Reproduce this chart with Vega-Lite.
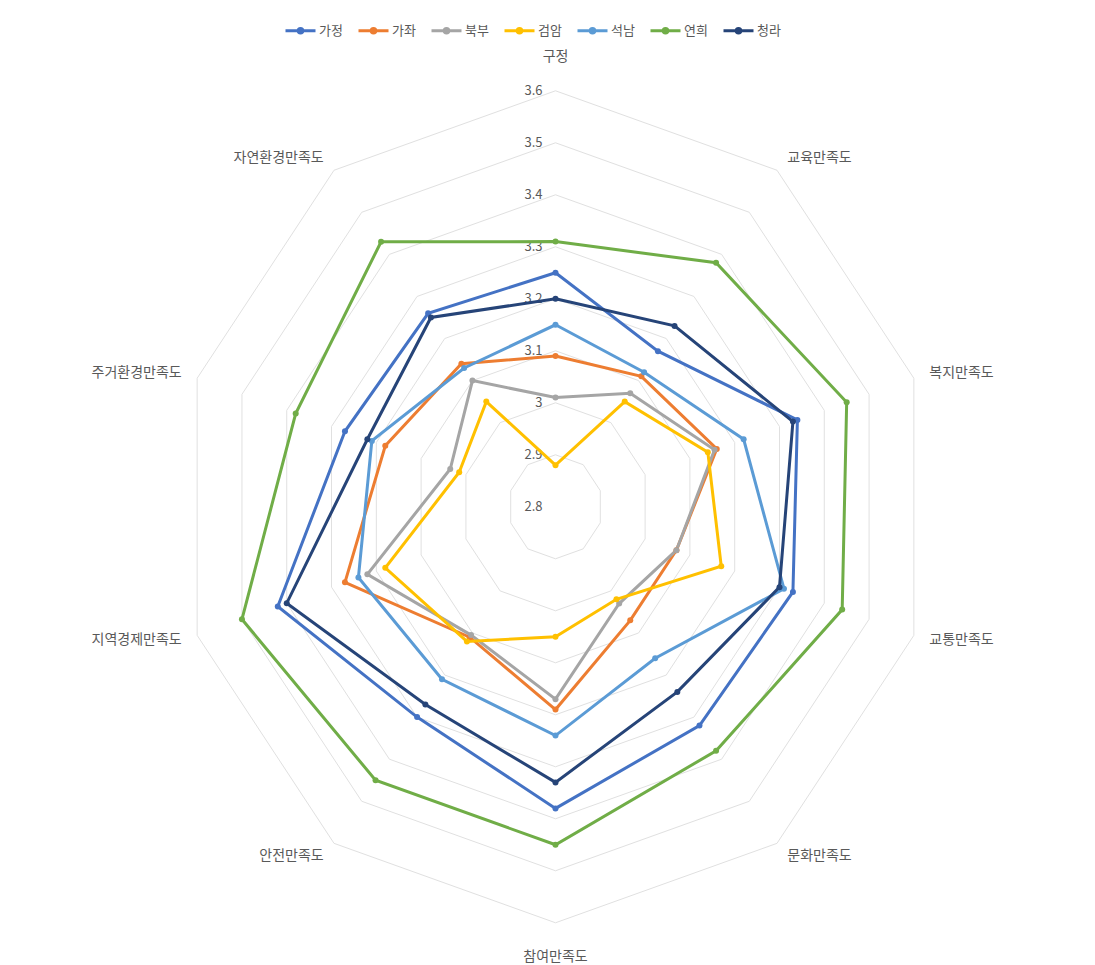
{
  "$schema": "https://vega.github.io/schema/vega-lite/v6.json",
  "width": 1095,
  "height": 965,
  "autosize": "none",
  "padding": 0,
  "background": "white",
  "config": {"view": {"stroke": null}, "font": "Noto Sans CJK KR"},
  "datasets": {
    "scores": [
      {"axis": "구정", "가정": 3.25, "가좌": 3.09, "북부": 3.01, "검암": 2.88, "석남": 3.15, "연희": 3.31, "청라": 3.20},
      {"axis": "교육만족도", "가정": 3.17, "가좌": 3.11, "북부": 3.07, "검암": 3.05, "석남": 3.12, "연희": 3.38, "청라": 3.23},
      {"axis": "복지만족도", "가정": 3.34, "가좌": 3.16, "북부": 3.155, "검암": 3.14, "석남": 3.22, "연희": 3.45, "청라": 3.33},
      {"axis": "교통만족도", "가정": 3.33, "가좌": 3.07, "북부": 3.07, "검암": 3.17, "석남": 3.31, "연희": 3.44, "청라": 3.30},
      {"axis": "문화만족도", "가정": 3.32, "가좌": 3.07, "북부": 3.03, "검암": 3.02, "석남": 3.16, "연희": 3.38, "청라": 3.24},
      {"axis": "참여만족도", "가정": 3.38, "가좌": 3.19, "북부": 3.17, "검암": 3.05, "석남": 3.24, "연희": 3.45, "청라": 3.33},
      {"axis": "안전만족도", "가정": 3.30, "가좌": 3.11, "북부": 3.105, "검암": 3.12, "석남": 3.21, "연희": 3.45, "청라": 3.27},
      {"axis": "지역경제만족도", "가정": 3.42, "가좌": 3.27, "북부": 3.22, "검암": 3.18, "석남": 3.24, "연희": 3.50, "청라": 3.40},
      {"axis": "주거환경만족도", "가정": 3.27, "가좌": 3.18, "북부": 3.035, "검암": 3.015, "석남": 3.21, "연희": 3.38, "청라": 3.22},
      {"axis": "자연환경만족도", "가정": 3.26, "가좌": 3.14, "북부": 3.10, "검암": 3.05, "석남": 3.13, "연희": 3.43, "청라": 3.25}
    ],
    "rings": [
      {"axis": "구정", "level": [2.9, 3.0, 3.1, 3.2, 3.3, 3.4, 3.5, 3.6]},
      {"axis": "교육만족도", "level": [2.9, 3.0, 3.1, 3.2, 3.3, 3.4, 3.5, 3.6]},
      {"axis": "복지만족도", "level": [2.9, 3.0, 3.1, 3.2, 3.3, 3.4, 3.5, 3.6]},
      {"axis": "교통만족도", "level": [2.9, 3.0, 3.1, 3.2, 3.3, 3.4, 3.5, 3.6]},
      {"axis": "문화만족도", "level": [2.9, 3.0, 3.1, 3.2, 3.3, 3.4, 3.5, 3.6]},
      {"axis": "참여만족도", "level": [2.9, 3.0, 3.1, 3.2, 3.3, 3.4, 3.5, 3.6]},
      {"axis": "안전만족도", "level": [2.9, 3.0, 3.1, 3.2, 3.3, 3.4, 3.5, 3.6]},
      {"axis": "지역경제만족도", "level": [2.9, 3.0, 3.1, 3.2, 3.3, 3.4, 3.5, 3.6]},
      {"axis": "주거환경만족도", "level": [2.9, 3.0, 3.1, 3.2, 3.3, 3.4, 3.5, 3.6]},
      {"axis": "자연환경만족도", "level": [2.9, 3.0, 3.1, 3.2, 3.3, 3.4, 3.5, 3.6]}
    ],
    "ticks": [
      {"t": 2.8}, {"t": 2.9}, {"t": 3}, {"t": 3.1}, {"t": 3.2}, {"t": 3.3}, {"t": 3.4}, {"t": 3.5}, {"t": 3.6}
    ]
  },
  "encoding": {
    "x": {"field": "x", "type": "quantitative", "scale": {"domain": [-1.1794, 1.1454], "nice": false, "zero": false}, "axis": null},
    "y": {"field": "y", "type": "quantitative", "scale": {"domain": [-0.8812, 0.9746], "nice": false, "zero": false}, "axis": null}
  },
  "layer": [
    {
      "data": {"name": "rings"},
      "transform": [
        {"flatten": ["level"]},
        {"calculate": "indexof(['구정','교육만족도','복지만족도','교통만족도','문화만족도','참여만족도','안전만족도','지역경제만족도','주거환경만족도','자연환경만족도'], datum.axis)", "as": "idx"},
        {"calculate": "datum.idx * PI / 5", "as": "ang"},
        {"calculate": "(datum.level - 2.8) * sin(datum.ang)", "as": "x"},
        {"calculate": "(datum.level - 2.8) * cos(datum.ang)", "as": "y"}
      ],
      "mark": {"type": "line", "interpolate": "linear-closed", "stroke": "#e0e0e0", "strokeWidth": 1},
      "encoding": {
        "detail": {"field": "level", "type": "nominal"},
        "order": {"field": "idx", "type": "quantitative"}
      }
    },
    {
      "data": {"name": "ticks"},
      "transform": [
        {"calculate": "0", "as": "x"},
        {"calculate": "datum.t - 2.8", "as": "y"}
      ],
      "mark": {"type": "text", "align": "right", "baseline": "middle", "dx": -13, "fontSize": 13, "color": "#595959"},
      "encoding": {"text": {"field": "t", "type": "nominal"}}
    },
    {
      "data": {"name": "scores"},
      "transform": [
        {"fold": ["가정", "가좌", "북부", "검암", "석남", "연희", "청라"], "as": ["region", "value"]},
        {"calculate": "indexof(['구정','교육만족도','복지만족도','교통만족도','문화만족도','참여만족도','안전만족도','지역경제만족도','주거환경만족도','자연환경만족도'], datum.axis)", "as": "idx"},
        {"calculate": "datum.idx * PI / 5", "as": "ang"},
        {"calculate": "(datum.value - 2.8) * sin(datum.ang)", "as": "x"},
        {"calculate": "(datum.value - 2.8) * cos(datum.ang)", "as": "y"}
      ],
      "encoding": {
        "color": {
          "field": "region",
          "type": "nominal",
          "scale": {
            "domain": ["가정", "가좌", "북부", "검암", "석남", "연희", "청라"],
            "range": ["#4472C4", "#ED7D31", "#A5A5A5", "#FFC000", "#5B9BD5", "#70AD47", "#264478"]
          },
          "legend": {
            "title": null,
            "orient": "none",
            "legendX": 284,
            "legendY": 14,
            "direction": "horizontal",
            "labelFontSize": 13,
            "labelColor": "#595959",
            "labelFont": "Noto Sans CJK KR",
            "labelOffset": 2,
            "columnPadding": 9,
            "symbolType": "M-1,0H1M-0.15,0A0.15,0.15,0,1,1,0.15,0A0.15,0.15,0,1,1,-0.15,0Z",
            "symbolSize": 900,
            "symbolStrokeWidth": 3,
            "encode": {
              "symbols": {
                "update": {
                  "fill": {"scale": "color", "field": "value"},
                  "stroke": {"scale": "color", "field": "value"},
                  "strokeWidth": {"value": 3}
                }
              }
            }
          }
        }
      },
      "layer": [
        {
          "mark": {"type": "line", "interpolate": "linear-closed", "strokeWidth": 3},
          "encoding": {"order": {"field": "idx", "type": "quantitative"}}
        },
        {
          "mark": {"type": "point", "filled": true, "size": 36, "opacity": 1}
        }
      ]
    },
    {
      "data": {"name": "scores"},
      "transform": [
        {"calculate": "indexof(['구정','교육만족도','복지만족도','교통만족도','문화만족도','참여만족도','안전만족도','지역경제만족도','주거환경만족도','자연환경만족도'], datum.axis)", "as": "idx"},
        {"filter": "datum.idx >= 1 && datum.idx <= 4"},
        {"calculate": "datum.idx * PI / 5", "as": "ang"},
        {"calculate": "0.83 * sin(datum.ang)", "as": "x"},
        {"calculate": "0.83 * cos(datum.ang)", "as": "y"}
      ],
      "mark": {"type": "text", "align": "left", "baseline": "middle", "dx": 2, "fontSize": 14, "color": "#595959"},
      "encoding": {"text": {"field": "axis", "type": "nominal"}}
    },
    {
      "data": {"name": "scores"},
      "transform": [
        {"calculate": "indexof(['구정','교육만족도','복지만족도','교통만족도','문화만족도','참여만족도','안전만족도','지역경제만족도','주거환경만족도','자연환경만족도'], datum.axis)", "as": "idx"},
        {"filter": "datum.idx >= 6"},
        {"calculate": "datum.idx * PI / 5", "as": "ang"},
        {"calculate": "0.83 * sin(datum.ang)", "as": "x"},
        {"calculate": "0.83 * cos(datum.ang)", "as": "y"}
      ],
      "mark": {"type": "text", "align": "right", "baseline": "middle", "dx": -2, "fontSize": 14, "color": "#595959"},
      "encoding": {"text": {"field": "axis", "type": "nominal"}}
    },
    {
      "data": {"name": "scores"},
      "transform": [
        {"calculate": "indexof(['구정','교육만족도','복지만족도','교통만족도','문화만족도','참여만족도','안전만족도','지역경제만족도','주거환경만족도','자연환경만족도'], datum.axis)", "as": "idx"},
        {"filter": "datum.idx == 0 || datum.idx == 5"},
        {"calculate": "datum.idx * PI / 5", "as": "ang"},
        {"calculate": "0", "as": "x"},
        {"calculate": "0.865 * cos(datum.ang)", "as": "y"}
      ],
      "mark": {"type": "text", "align": "center", "baseline": "middle", "fontSize": 14, "color": "#595959"},
      "encoding": {"text": {"field": "axis", "type": "nominal"}}
    }
  ]
}
